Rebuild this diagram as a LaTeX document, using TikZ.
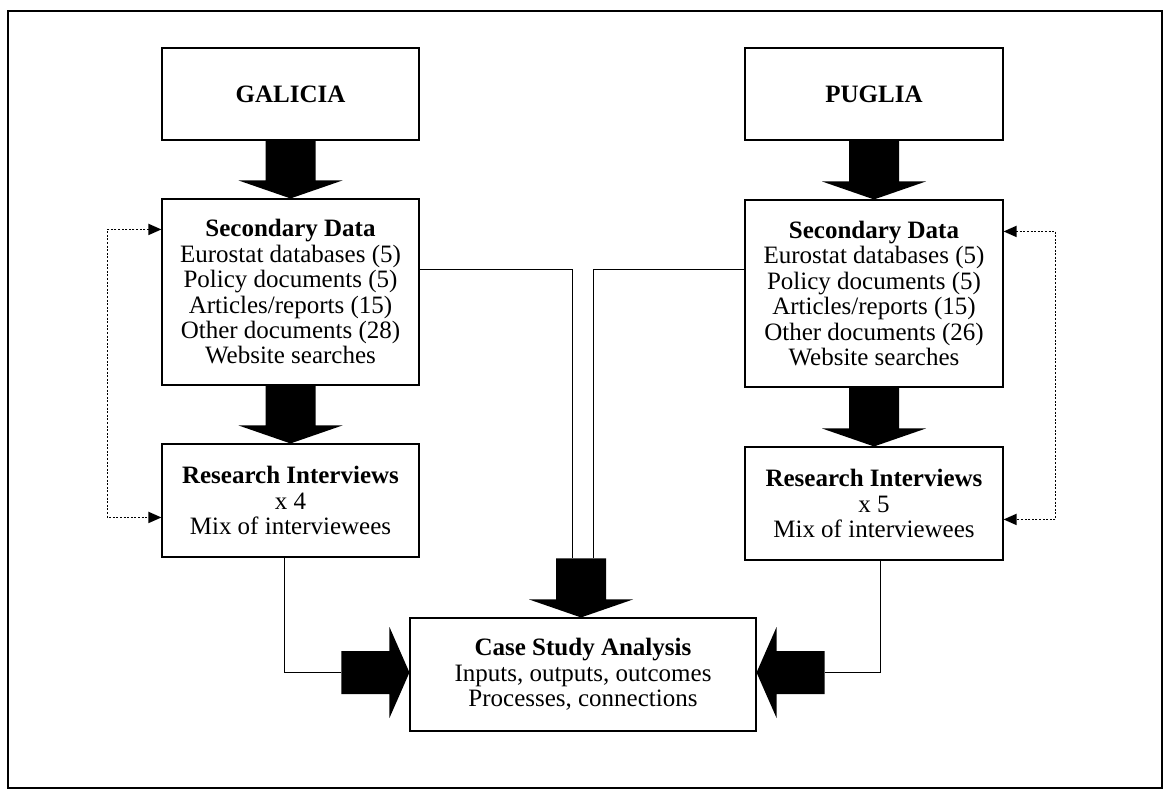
\documentclass[tikz,border=0pt]{standalone}
\usepackage{fontspec}
\setmainfont{Liberation Serif}
\usetikzlibrary{calc,arrows.meta}
\tikzset{
  box/.style={draw, line width=1.1pt, rectangle, inner sep=0pt, align=center,
    font=\fontsize{25}{25.4}\selectfont},
  thin/.style={line width=0.8pt},
  dotarr/.style={line width=1.7pt, dash pattern=on 2pt off 1.6pt, {Triangle[length=13pt,width=11pt]}-{Triangle[length=13pt,width=11pt]}},
}
\newcommand\dnblock[2]{%
  \fill (#2 |- #1) ++(-25,0) -- ($(#2)+(-25,-18)$) -- ($(#2)+(-52,-18)$) -- (#2)
    -- ($(#2)+(52,-18)$) -- ($(#2)+(25,-18)$) -- ($(#2 |- #1)+(25,0)$) -- cycle;}
\newcommand\rtblock[2]{%
  \fill ($(#1)+(0,-21.5)$) -- ($(#2)+(-20,-21.5)$) -- ($(#2)+(-20,-45.5)$) -- (#2)
    -- ($(#2)+(-20,45.5)$) -- ($(#2)+(-20,21.5)$) -- ($(#1)+(0,21.5)$) -- cycle;}
\newcommand\lfblock[2]{%
  \fill ($(#1)+(0,-21.5)$) -- ($(#2)+(20,-21.5)$) -- ($(#2)+(20,-45.5)$) -- (#2)
    -- ($(#2)+(20,45.5)$) -- ($(#2)+(20,21.5)$) -- ($(#1)+(0,21.5)$) -- cycle;}
\begin{document}
\begin{tikzpicture}[x=1pt,y=-1pt]
\useasboundingbox (0,0) rectangle (1173,799);
\fill[white] (0,0) rectangle (1173,799);
\draw[line width=1.6pt] (8,11) rectangle (1162,788);

% boxes
\node[box, minimum width=257pt, minimum height=92pt] (gal) at (290.5,94) {\textbf{GALICIA}};
\node[box, minimum width=257pt, minimum height=186pt] (lsd) at (290.5,292)
  {\textbf{Secondary Data}\\Eurostat databases (5)\\Policy documents (5)\\Articles/reports (15)\\Other documents (28)\\Website searches};
\node[box, minimum width=257pt, minimum height=113pt] (lri) at (290.5,500.5)
  {\textbf{Research Interviews}\\x 4\\Mix of interviewees};

\node[box, minimum width=258pt, minimum height=92pt] (pug) at (874,94) {\textbf{PUGLIA}};
\node[box, minimum width=258pt, minimum height=187pt] (rsd) at (874,293.5)
  {\textbf{Secondary Data}\\Eurostat databases (5)\\Policy documents (5)\\Articles/reports (15)\\Other documents (26)\\Website searches};
\node[box, minimum width=258pt, minimum height=113pt] (rri) at (874,503.5)
  {\textbf{Research Interviews}\\x 5\\Mix of interviewees};

\node[box, minimum width=346pt, minimum height=113pt] (csa) at (583,674.5)
  {\textbf{Case Study Analysis}\\Inputs, outputs, outcomes\\Processes, connections};

% block arrows
\dnblock{gal.south}{lsd.north}
\dnblock{lsd.south}{lri.north}
\dnblock{pug.south}{rsd.north}
\dnblock{rsd.south}{rri.north}

\coordinate (ctip) at ($(csa.north)+(-2,0)$);
\coordinate (ctail) at ($(ctip)+(0,-59)$);
\dnblock{ctail}{ctip}
\coordinate (ltip) at ($(csa.west)+(0,-2)$);
\coordinate (ltail) at ($(ltip)+(-68,0)$);
\rtblock{ltail}{ltip}
\coordinate (rtip) at ($(csa.east)+(0,-2)$);
\coordinate (rtail) at ($(rtip)+(68,0)$);
\lfblock{rtail}{rtip}

% thin connectors
\coordinate (jl) at ($(ctail)+(-9,0)$);
\coordinate (jr) at ($(ctail)+(12,0)$);
\draw[thin] ($(lsd.north east)+(0,71)$) -| (jl);
\draw[thin] ($(rsd.north west)+(0,70)$) -| (jr);
\draw[thin] ($(lri.south)+(-6,0)$) |- (ltail);
\draw[thin] ($(rri.south)+(6,0)$) |- (rtail);

% dotted feedback arrows
\draw[dotarr] ($(lsd.north west)+(0,31)$) -- ++(-54,0) |- ($(lri.north west)+(0,74)$);
\draw[dotarr] ($(rsd.north east)+(0,32)$) -- ++(52,0) |- ($(rri.north east)+(0,73)$);
\end{tikzpicture}
\end{document}
